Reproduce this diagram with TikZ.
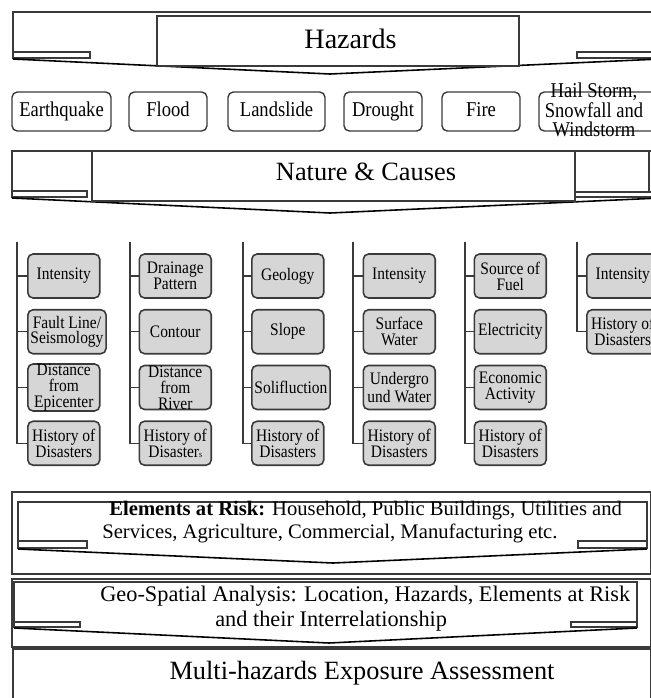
\documentclass[tikz,border=0pt]{standalone}
\usepackage{fontspec}
\setmainfont{Liberation Serif}
\newfontfamily\narrowfont[FakeStretch=0.88]{Liberation Serif}
\usetikzlibrary{positioning}
\definecolor{edge}{HTML}{3A3A3A}
\definecolor{boxgray}{HTML}{D6D6D6}
\begin{document}
\begin{tikzpicture}[x=0.02cm,y=-0.02cm,
    hz/.style={draw=edge,rounded corners=3pt,line width=0.8pt,fill=white,minimum height=0.78cm,inner sep=1pt,align=center,text height=1.75ex,text depth=0.45ex,font=\narrowfont\fontsize{12}{12}\selectfont},
    cause/.style={draw=edge,rounded corners=3pt,line width=0.9pt,fill=boxgray,minimum width=1.44cm,minimum height=0.88cm,inner xsep=1.5pt,inner ysep=0pt,align=center,font=\narrowfont\fontsize{10}{9}\selectfont},
    banner/.style={draw=edge,line width=0.6pt},
    chev/.style={draw=black,line width=0.9pt},
    tree/.style={draw=edge,line width=0.8pt},
    node distance=1.115cm]
  \useasboundingbox (0,0) rectangle (651,698);

  % Hazards banner
  \draw[banner] (13,52) -- (13,12) -- (660,12);
  \draw[banner] (13,52) rectangle (90,58);
  \draw[banner] (577,52) rectangle (660,58);
  \draw[chev] (13,59) -- (330,74) -- (660,59);
  \draw[banner,fill=white] (157,16) rectangle (519,66);
  \path (350.5,39) node[font=\fontsize{16}{18}\selectfont] (haz) {Hazards};

  % hazard types
  \path (61.5,111.5) node[hz,minimum width=1.98cm] (eq) {Earthquake};
  \path (168,111.5) node[hz,minimum width=1.56cm] (fl) {Flood};
  \path (276.5,111.5) node[hz,minimum width=1.94cm] (ls) {Landslide};
  \path (383,111.5) node[hz,minimum width=1.56cm] (dr) {Drought};
  \path (481,111.5) node[hz,minimum width=1.56cm] (fi) {Fire};
  \path (600,111.5) node[hz,minimum width=2.44cm] (hs) {};
  \path (594,110) node[align=center,font=\narrowfont\fontsize{12}{11}\selectfont] (hst) {Hail Storm,\\Snowfall and\\Windstorm};

  % Nature & Causes banner
  \draw[banner] (12,191) -- (12,151) -- (660,151);
  \draw[banner] (12,191) rectangle (87,197);
  \draw[banner] (649,151) -- (649,192);
  \draw[banner] (575,192) rectangle (660,197);
  \draw[chev] (12,198) -- (330,213) -- (660,198);
  \draw[banner,fill=white] (92,151) rectangle (575,201);
  \path (366,172) node[font=\fontsize{15}{18}\selectfont] (nat) {Nature \& Causes};

  % earthquake column
  \coordinate (eqtop) at (17,242);
  \path (27,276) node[cause,anchor=west] (eq1) {Intensity};
  \path node[cause,below=of eq1.west,anchor=west] (eq2) {Fault Line/\\Seismology};
  \path node[cause,below=of eq2.west,anchor=west] (eq3) {Distance\\from\\Epicenter};
  \path node[cause,below=of eq3.west,anchor=west] (eq4) {History of\\Disasters};
  \draw[tree] (eqtop) |- (eq4.west) (eq1.west) -- (eq1.west -| eqtop)
    (eq2.west) -- (eq2.west -| eqtop) (eq3.west) -- (eq3.west -| eqtop);

  % flood column
  \coordinate (fltop) at (130,242);
  \path (138.5,276) node[cause,anchor=west] (fl1) {Drainage\\Pattern};
  \path node[cause,below=of fl1.west,anchor=west] (fl2) {Contour};
  \path node[cause,below=of fl2.west,anchor=west] (fl3) {Distance\\from\\River};
  \path node[cause,below=of fl3.west,anchor=west] (fl4) {History of\\Disaster{\fontsize{5}{5}\selectfont s}};
  \draw[tree] (fltop) |- (fl4.west) (fl1.west) -- (fl1.west -| fltop)
    (fl2.west) -- (fl2.west -| fltop) (fl3.west) -- (fl3.west -| fltop);

  % landslide column
  \coordinate (lstop) at (243,242);
  \path (251,276) node[cause,anchor=west] (ls1) {Geology};
  \path node[cause,below=of ls1.west,anchor=west] (ls2) {Slope};
  \path node[cause,below=of ls2.west,anchor=west] (ls3) {Solifluction};
  \path node[cause,below=of ls3.west,anchor=west] (ls4) {History of\\Disasters};
  \draw[tree] (lstop) |- (ls4.west) (ls1.west) -- (ls1.west -| lstop)
    (ls2.west) -- (ls2.west -| lstop) (ls3.west) -- (ls3.west -| lstop);

  % drought column
  \coordinate (drtop) at (353,242);
  \path (362.5,276) node[cause,anchor=west] (dr1) {Intensity};
  \path node[cause,below=of dr1.west,anchor=west] (dr2) {Surface\\Water};
  \path node[cause,below=of dr2.west,anchor=west] (dr3) {Undergro\\und Water};
  \path node[cause,below=of dr3.west,anchor=west] (dr4) {History of\\Disasters};
  \draw[tree] (drtop) |- (dr4.west) (dr1.west) -- (dr1.west -| drtop)
    (dr2.west) -- (dr2.west -| drtop) (dr3.west) -- (dr3.west -| drtop);

  % fire column
  \coordinate (fitop) at (465,242);
  \path (473.5,276) node[cause,anchor=west] (fi1) {Source of\\Fuel};
  \path node[cause,below=of fi1.west,anchor=west] (fi2) {Electricity};
  \path node[cause,below=of fi2.west,anchor=west] (fi3) {Economic\\Activity};
  \path node[cause,below=of fi3.west,anchor=west] (fi4) {History of\\Disasters};
  \draw[tree] (fitop) |- (fi4.west) (fi1.west) -- (fi1.west -| fitop)
    (fi2.west) -- (fi2.west -| fitop) (fi3.west) -- (fi3.west -| fitop);

  % hail storm column
  \coordinate (hstop) at (577,242);
  \path (586,276) node[cause,anchor=west] (hs1) {Intensity};
  \path node[cause,below=of hs1.west,anchor=west] (hs2) {History of\\Disasters};
  \draw[tree] (hstop) |- (hs2.west) (hs1.west) -- (hs1.west -| hstop);

  % Elements at Risk banner
  \draw[banner] (12,492) rectangle (651,574);
  \draw[banner] (18,541) -- (18,502) -- (647,502) -- (647,541);
  \draw[banner] (18,541) rectangle (87,548);
  \draw[banner] (578,541) rectangle (647,548);
  \draw[chev] (18,549) -- (333,563) -- (647,549);
  \path (102,522) node[anchor=west,align=left,inner sep=0pt,font=\fontsize{11.75}{13}\selectfont] (elem)
    {\hspace{0.14cm}\textbf{Elements at Risk:} Household, Public Buildings, Utilities and\\Services, Agriculture, Commercial, Manufacturing etc.};

  % Geo-Spatial banner
  \draw[banner] (12,579) rectangle (651,647);
  \draw[banner,line width=1.2pt] (14,622) -- (14,582) -- (637,582) -- (637,622);
  \draw[banner] (14,622) rectangle (80,627);
  \draw[banner] (571,622) rectangle (637,627);
  \draw[chev] (14,628) -- (329,643) -- (637,628);
  \path (100,609) node[anchor=west,align=left,inner sep=0pt,font=\fontsize{12.7}{14.2}\selectfont] (geo)
    {Geo-Spatial Analysis: Location, Hazards, Elements at Risk\\\hspace{2.3cm}and their Interrelationship};

  % result
  \draw[banner] (13,649) rectangle (651,712);
  \path (362,673) node[font=\fontsize{15}{18}\selectfont] (multi) {Multi-hazards Exposure Assessment};
\end{tikzpicture}
\end{document}
